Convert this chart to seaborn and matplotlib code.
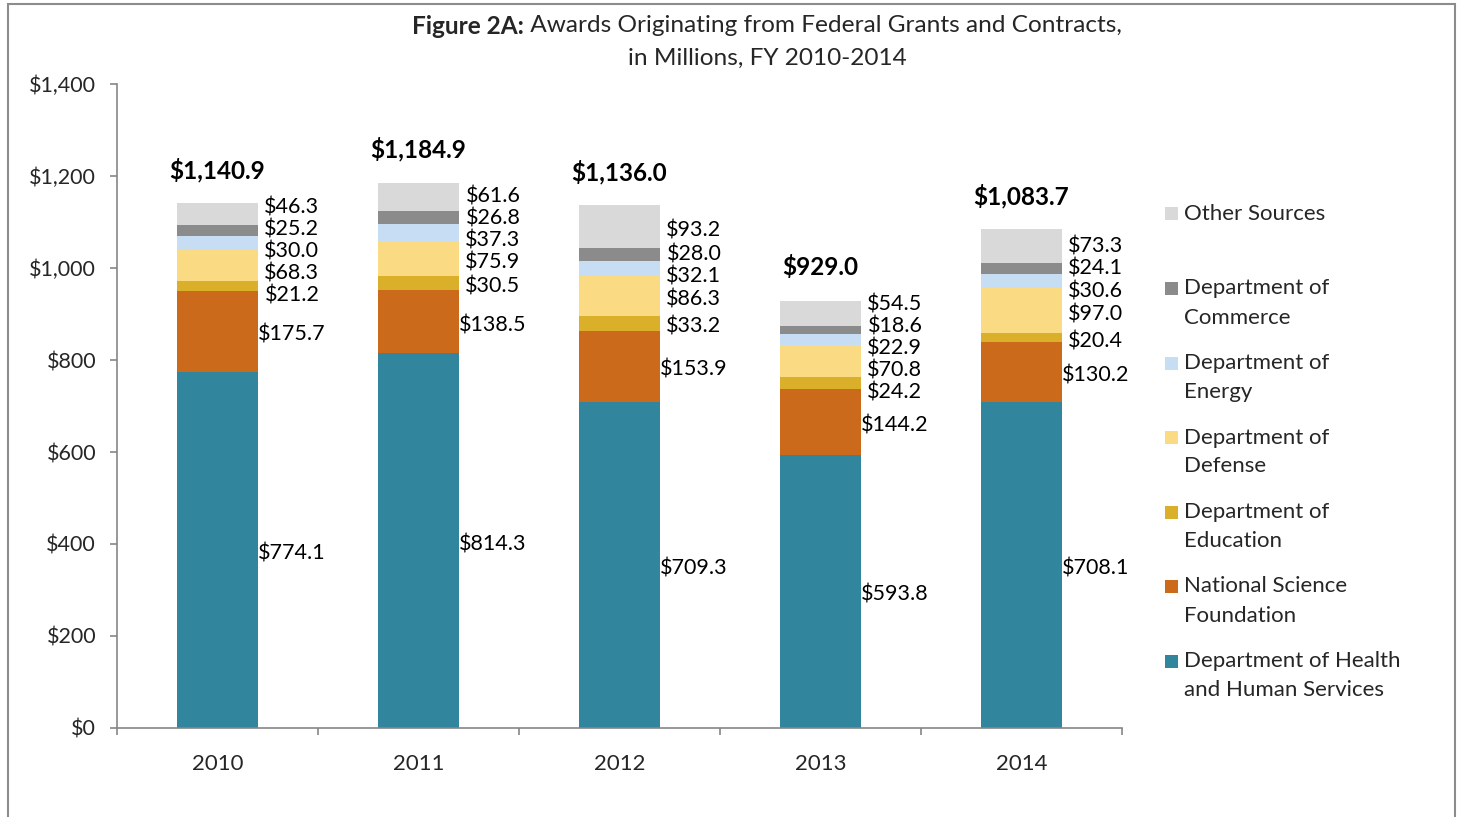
import numpy as np
import pandas as pd
import matplotlib
matplotlib.use("Agg")
import matplotlib.pyplot as plt
import matplotlib.patches as mpatches
import seaborn as sns

years = ["2010", "2011", "2012", "2013", "2014"]
hhs = [774.1, 814.3, 709.3, 593.8, 708.1]
nsf = [175.7, 138.5, 153.9, 144.2, 130.2]
education = [21.2, 30.5, 33.2, 24.2, 20.4]
defense = [68.3, 75.9, 86.3, 70.8, 97.0]
energy = [30.0, 37.3, 32.1, 22.9, 30.6]
commerce = [25.2, 26.8, 28.0, 18.6, 24.1]
other = [46.3, 61.6, 93.2, 54.5, 73.3]
totals = [1140.9, 1184.9, 1136.0, 929.0, 1083.7]

series_names = ["Department of Health\nand Human Services", "National Science\nFoundation",
                "Department of\nEducation", "Department of\nDefense", "Department of\nEnergy",
                "Department of\nCommerce", "Other Sources"]
series_vals = [hhs, nsf, education, defense, energy, commerce, other]
colors = ["#31859C", "#CC6A1C", "#DAAF2A", "#FADA82", "#C6DDF4", "#8B8B8B", "#D9D9D9"]

sns.set_theme(style="white")
plt.rcParams['font.family'] = ['Lato', 'DejaVu Sans']

W, H = 1462, 817
fig = plt.figure(figsize=(W / 100, H / 100), dpi=100)
ax = fig.add_axes([117 / W, 1 - 728 / H, (1122 - 117) / W, (728 - 84) / H])

df = pd.DataFrame({"year": years})
bottom = np.zeros(len(years))
for name, vals, c in zip(series_names, series_vals, colors):
    d = df.copy()
    d["v"] = vals
    sns.barplot(data=d, x="year", y="v", color=c, width=0.4, bottom=bottom.copy(),
                ax=ax, saturation=1, linewidth=0, errorbar=None)
    bottom += np.array(vals)

ax.set_xlim(-0.5, 4.5)
ax.set_ylim(0, 1400)
ax.set_yticks(np.arange(0, 1401, 200))
ax.set_yticklabels([f"${v:,.0f}" for v in np.arange(0, 1401, 200)])
ax.set_xlabel("")
ax.set_ylabel("")
for s in ["top", "right"]:
    ax.spines[s].set_visible(False)
for s in ["left", "bottom"]:
    ax.spines[s].set_color("#868686")
    ax.spines[s].set_linewidth(1.2)
ax.set_xticks(np.arange(-0.5, 5, 1), minor=True)
ax.tick_params(axis="x", which="major", length=0, pad=19, labelsize=16)
ax.tick_params(axis="x", which="minor", length=5, direction="out", color="#868686", width=1.2, bottom=True)
ax.tick_params(axis="y", length=5, direction="out", color="#868686", width=1.2, pad=10, labelsize=15.5, left=True)

# segment labels with simple de-overlap
min_gap = 48.0
for i in range(len(years)):
    vals = [s[i] for s in series_vals]
    cum = np.cumsum([0] + vals)
    centers = [(cum[k] + cum[k + 1]) / 2 for k in range(len(vals))]
    pos = list(centers)
    for _ in range(300):
        for k in range(len(pos) - 1):
            gap = pos[k + 1] - pos[k]
            if gap < min_gap:
                shift = (min_gap - gap) / 2
                pos[k] -= shift
                pos[k + 1] += shift
    for k, v in enumerate(vals):
        ax.annotate(f"${v:.1f}", xy=(i + 0.37, pos[k]), xytext=(0, -2.5), textcoords="offset points",
                    ha="center", va="center", fontsize=15.5, color="black")
    ax.annotate(f"${totals[i]:,.1f}", xy=(i, cum[-1]), xytext=(0, 24), textcoords="offset points",
                ha="center", va="center", fontsize=17.5, fontweight="bold", color="black")

# legend (top-aligned squares, two-line entries)
leg_y0 = 214
leg_step = 74.5
line_h = 29
for k, (n, c) in enumerate(list(zip(series_names, colors))[::-1]):
    yk = leg_y0 + leg_step * k
    fig.patches.append(mpatches.Rectangle((1165 / W, 1 - (yk + 6.5) / H), 13 / W, 13 / H,
                                          transform=fig.transFigure, facecolor=c, edgecolor="none"))
    for j, line in enumerate(n.split("\n")):
        fig.text(1184 / W, 1 - (yk + j * line_h) / H, line, fontsize=16, va="center", ha="left")

# title
fig.canvas.draw()
r = fig.canvas.get_renderer()
t1 = fig.text(0, 1 - 26 / H, "Figure 2A:", fontsize=17.6, fontweight="bold", va="center", ha="left")
t2 = fig.text(0, 1 - 26 / H, " Awards Originating from Federal Grants and Contracts,", fontsize=17.6,
              va="center", ha="left")
w1 = t1.get_window_extent(r).width
w2 = t2.get_window_extent(r).width
cx = 767
start = cx - (w1 + w2) / 2
t1.set_x(start / W)
t2.set_x((start + w1) / W)
fig.text(cx / W, 1 - 58 / H, "in Millions, FY 2010-2014", fontsize=17.6, va="center", ha="center")

# outer border
fig.patches.append(mpatches.Rectangle((8 / W, -0.05), (1455 - 8) / W, 0.05 + 1 - 4 / H,
                                      transform=fig.transFigure, fill=False,
                                      edgecolor="#8c8c8c", linewidth=1.5))

fig.savefig("out.png", dpi=100)
